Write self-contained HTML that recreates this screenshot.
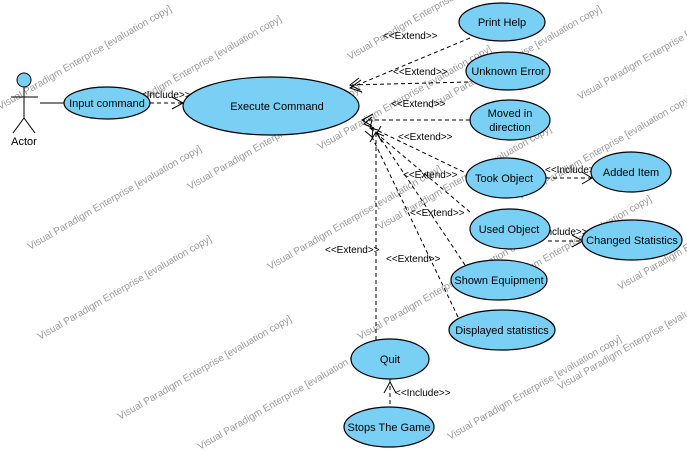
<!DOCTYPE html>
<html><head><meta charset="utf-8"><style>
html,body{margin:0;padding:0;background:#fff;}
svg{display:block;font-family:"Liberation Sans",sans-serif;}
.e{fill:#7acff5;stroke:#000;stroke-width:1.2}
.d{stroke:#000;stroke-width:1;stroke-dasharray:4,3;fill:none}
.a{stroke:#000;stroke-width:1;fill:none}
.t{font-size:11px;fill:#000;text-anchor:middle}
.l{font-size:10px;fill:#000}
.w{font-size:10px;fill:#9a9a9a}
</style></head><body>
<svg width="687" height="451" viewBox="0 0 687 451">
<rect width="687" height="451" fill="#fff"/>
<g class="w">
<text transform="translate(0,110) rotate(-30)">Visual Paradigm Enterprise [evaluation copy]</text>
<text transform="translate(30,250) rotate(-30)">Visual Paradigm Enterprise [evaluation copy]</text>
<text transform="translate(110,120) rotate(-30)">Visual Paradigm Enterprise [evaluation copy]</text>
<text transform="translate(40,340) rotate(-30)">Visual Paradigm Enterprise [evaluation copy]</text>
<text transform="translate(190,190) rotate(-30)">Visual Paradigm Enterprise [evaluation copy]</text>
<text transform="translate(120,420) rotate(-30)">Visual Paradigm Enterprise [evaluation copy]</text>
<text transform="translate(270,270) rotate(-30)">Visual Paradigm Enterprise [evaluation copy]</text>
<text transform="translate(200,450) rotate(-30)">Visual Paradigm Enterprise [evaluation copy]</text>
<text transform="translate(320,150) rotate(-30)">Visual Paradigm Enterprise [evaluation copy]</text>
<text transform="translate(350,60) rotate(-30)">Visual Paradigm Enterprise [evaluation copy]</text>
<text transform="translate(380,230) rotate(-30)">Visual Paradigm Enterprise [evaluation copy]</text>
<text transform="translate(360,340) rotate(-30)">Visual Paradigm Enterprise [evaluation copy]</text>
<text transform="translate(430,110) rotate(-30)">Visual Paradigm Enterprise [evaluation copy]</text>
<text transform="translate(480,300) rotate(-30)">Visual Paradigm Enterprise [evaluation copy]</text>
<text transform="translate(520,200) rotate(-30)">Visual Paradigm Enterprise [evaluation copy]</text>
<text transform="translate(450,440) rotate(-30)">Visual Paradigm Enterprise [evaluation copy]</text>
<text transform="translate(560,390) rotate(-30)">Visual Paradigm Enterprise [evaluation copy]</text>
<text transform="translate(580,100) rotate(-30)">Visual Paradigm Enterprise [evaluation copy]</text>
<text transform="translate(-40,20) rotate(-30)">Visual Paradigm Enterprise [evaluation copy]</text>
<text transform="translate(620,290) rotate(-30)">Visual Paradigm Enterprise [evaluation copy]</text>
</g>
<!-- actor -->
<circle cx="24" cy="80" r="7" fill="#7acff5" stroke="#000"/>
<path class="a" d="M24 87V118M11 97H38M24 118L13 133M24 118L35 133M40 103H64"/>
<text class="t" x="24" y="145">Actor</text>
<!-- connectors -->
<path class="d" d="M150 103H183"/><path class="a" d="M172 97L183 103L172 109"/>
<text class="l" x="135" y="98">&lt;&lt;Include&gt;&gt;</text>
<path class="d" d="M470 38L350 88M468 82L350 85M470 120L362 120M470 175L364 124M470 212L370 128M465 265L377 133M458 317L372 137M376 340V132"/>
<path class="a" d="M361 80L350 88L362 92M359 78L350 85L360 90M373 114L362 120L372 126M372 117L364 124L374 128M372 120L370 128L378 130M381 126L377 133L384 136M365 131L372 137L373 129M370 142L376 132L382 142"/>
<text class="l" x="383" y="39">&lt;&lt;Extend&gt;&gt;</text>
<text class="l" x="393" y="75">&lt;&lt;Extend&gt;&gt;</text>
<text class="l" x="391" y="107">&lt;&lt;Extend&gt;&gt;</text>
<text class="l" x="398" y="140">&lt;&lt;Extend&gt;&gt;</text>
<text class="l" x="403" y="178">&lt;&lt;Extend&gt;&gt;</text>
<text class="l" x="410" y="216">&lt;&lt;Extend&gt;&gt;</text>
<text class="l" x="325" y="253">&lt;&lt;Extend&gt;&gt;</text>
<text class="l" x="386" y="262">&lt;&lt;Extend&gt;&gt;</text>
<path class="d" d="M546 178L592 178"/><path class="a" d="M582 172L592 178L582 184"/>
<text class="l" x="545" y="173">&lt;&lt;Include&gt;&gt;</text>
<path class="d" d="M548 241L583 241"/><path class="a" d="M572 235L583 241L572 247"/>
<text class="l" x="532" y="235">&lt;&lt;Include&gt;&gt;</text>
<path class="d" d="M390 379V405"/><path class="a" d="M384 393L390 382L396 393"/>
<text class="l" x="395" y="396">&lt;&lt;Include&gt;&gt;</text>
<!-- ellipses -->
<ellipse class="e" cx="107" cy="103" rx="43" ry="16"/><text class="t" x="107" y="107">Input command</text>
<ellipse class="e" cx="271" cy="106" rx="88" ry="29"/><text class="t" x="277" y="110">Execute Command</text>
<ellipse class="e" cx="502" cy="22" rx="43" ry="19"/><text class="t" x="502" y="26">Print Help</text>
<ellipse class="e" cx="508" cy="71" rx="42" ry="19"/><text class="t" x="508" y="75">Unknown Error</text>
<ellipse class="e" cx="510" cy="120" rx="40" ry="20"/><text class="t" x="510" y="117">Moved in</text><text class="t" x="510" y="131">direction</text>
<ellipse class="e" cx="506" cy="178" rx="40" ry="20"/><text class="t" x="504" y="182">Took Object</text>
<ellipse class="e" cx="631" cy="172" rx="40" ry="20"/><text class="t" x="631" y="176">Added Item</text>
<ellipse class="e" cx="510" cy="229" rx="40" ry="20"/><text class="t" x="509" y="233">Used Object</text>
<ellipse class="e" cx="632" cy="240" rx="50" ry="20"/><text class="t" x="632" y="244">Changed Statistics</text>
<ellipse class="e" cx="499" cy="280" rx="48" ry="20"/><text class="t" x="499" y="284">Shown Equipment</text>
<ellipse class="e" cx="502" cy="330" rx="53" ry="20"/><text class="t" x="502" y="334">Displayed statistics</text>
<ellipse class="e" cx="390" cy="359" rx="39" ry="20"/><text class="t" x="390" y="363">Quit</text>
<ellipse class="e" cx="389" cy="427" rx="45" ry="20"/><text class="t" x="389" y="431">Stops The Game</text>
</svg>
</body></html>
